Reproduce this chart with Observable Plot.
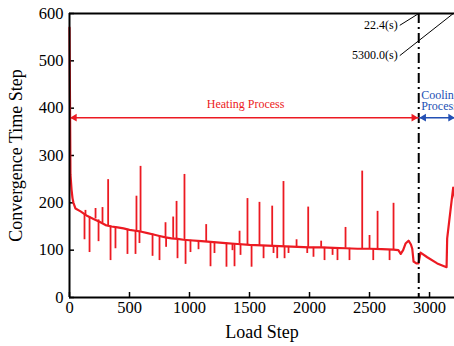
<!DOCTYPE html>
<html>
<head>
<meta charset="utf-8">
<script src="https://cdn.jsdelivr.net/npm/d3@7"></script>
<script src="https://cdn.jsdelivr.net/npm/@observablehq/plot@0.6"></script>
<style>
  html, body { margin: 0; padding: 0; background: #fff; }
  #chart svg { display: block; }
  #chart svg text { font-family: "Liberation Serif", "Times New Roman", serif; }
</style>
</head>
<body>
<div id="chart"></div>
<script>
// Baseline of the convergence curve (load step, convergence time step)
const baseStep = [0, 4, 8, 17, 25, 33, 50, 92, 150, 200, 250, 300, 350, 400, 450, 500, 550, 600, 650, 700, 750, 800, 850, 900, 950, 1000, 1100, 1200, 1300, 1400, 1500, 1600, 1700, 1800, 1900, 2000, 2100, 2200, 2300, 2400, 2500, 2600, 2700, 2740, 2760, 2780, 2800, 2825, 2845, 2856, 2867, 2890, 2908, 2925, 2981, 3064, 3142, 3147, 3175, 3197, 3215];
const baseVal  = [570, 420, 260, 228, 210, 200, 188, 182, 172, 166, 160, 153, 150, 148, 146, 143, 141, 139, 136, 133, 130, 127, 125, 124, 122, 121, 119, 117, 115, 113, 111, 110, 109, 108, 107, 106, 106, 105, 104, 103, 103, 102, 101, 100, 92, 100, 114, 120, 112, 103, 76, 72, 72, 95, 85, 72, 64, 125, 185, 232, 205];

// Spikes: load step, value at baseline, value at spike tip
const spikeStep = [125, 133, 167, 217, 242, 275, 322, 342, 383, 483, 550, 558, 583, 592, 692, 750, 800, 805, 864, 892, 900, 958, 967, 1008, 1075, 1139, 1175, 1208, 1308, 1358, 1375, 1417, 1425, 1483, 1517, 1583, 1617, 1689, 1700, 1731, 1783, 1792, 1825, 1892, 1981, 1989, 2033, 2097, 2125, 2192, 2233, 2300, 2333, 2439, 2500, 2531, 2567, 2667, 2700];
const spikeBase = [175, 175, 170, 166, 164, 157, 152, 151, 149, 144, 141, 141, 140, 140, 134, 130, 127, 127, 125, 124, 124, 122, 122, 121, 120, 118, 118, 117, 115, 114, 114, 113, 113, 111, 111, 110, 110, 109, 109, 109, 108, 108, 108, 107, 106, 106, 106, 106, 106, 105, 105, 104, 104, 103, 103, 102, 102, 101, 101];
const spikePeak = [122, 184, 95, 188, 118, 190, 249, 78, 103, 91, 91, 214, 114, 277, 87, 78, 158, 106, 170, 203, 82, 260, 70, 95, 101, 154, 65, 93, 64, 99, 65, 140, 89, 209, 64, 201, 82, 193, 93, 82, 245, 82, 93, 122, 93, 191, 85, 119, 78, 89, 78, 148, 78, 267, 131, 78, 182, 78, 199];

// Process boundary and arrows
const boundaryStep = [2910];
const processLevel = 380;
const heatingLabel = ["Heating Process"];
const coolingLabels = ["Cooling", "Process"];
const coolingLabelY = [428, 404];

// Time annotations
const timeLabels = ["22.4(s)", "5300.0(s)"];
const timeFromX = [2752, 2752];
const timeFromY = [575, 511];
const timeToX = [2910, 3198];
const timeToY = [600, 600];

const xTicks = [0, 500, 1000, 1500, 2000, 2500, 3000];
const yTicks = [0, 100, 200, 300, 400, 500, 600];

const RED = "#ec1a22";
const BLUE = "#2350b4";
const FONT = "Liberation Serif";

const base = baseStep.map((s, i) => ({step: s, value: baseVal[i]}));
const spikes = spikeStep.map((s, i) => ({step: s, lo: spikeBase[i], hi: spikePeak[i]}));
const ann = timeLabels.map((t, i) => ({t, x1: timeFromX[i], y1: timeFromY[i], x2: timeToX[i], y2: timeToY[i]}));
const xMax = 3208;

const chart = Plot.plot({
  width: 454,
  height: 346,
  marginLeft: 69,
  marginRight: 0,
  marginTop: 13,
  marginBottom: 49,
  style: {fontFamily: FONT, fontSize: "16.5px", color: "black", background: "white"},
  x: {domain: [0, xMax]},
  y: {domain: [0, 600]},
  marks: [
    // inward tick marks
    Plot.axisX({ticks: xTicks, tickSize: 5, dy: -5, tickFormat: () => "", label: null, strokeWidth: 1.5}),
    Plot.axisY({ticks: yTicks, tickSize: 5, dx: 5, tickFormat: () => "", label: null, strokeWidth: 1.5}),
    // tick labels
    Plot.text(xTicks, {x: d => d, frameAnchor: "bottom", lineAnchor: "top", dy: 4, text: d => String(d), fontSize: 16.5, fontFamily: FONT, fill: "black"}),
    Plot.text(yTicks, {y: d => d, frameAnchor: "left", textAnchor: "end", dx: -6, text: d => String(d), fontSize: 16.5, fontFamily: FONT, fill: "black"}),
    // axis titles
    Plot.axisX({ticks: [], label: "Load Step", labelAnchor: "center", labelArrow: "none", labelOffset: 40, dx: -19, fontSize: 18, fontFamily: FONT, fill: "black"}),
    Plot.axisY({ticks: [], label: "Convergence Time Step", labelAnchor: "center", labelArrow: "none", labelOffset: 60, dy: 5, fontSize: 18, fontFamily: FONT, fill: "black"}),
    // data
    Plot.ruleX(spikes, {x: "step", y1: "lo", y2: "hi", stroke: RED, strokeWidth: 1.8}),
    Plot.line(base, {x: "step", y: "value", stroke: RED, strokeWidth: 2.2}),
    // process boundary
    Plot.ruleX(boundaryStep, {stroke: "black", strokeWidth: 2, strokeDasharray: "10,4,2,4"}),
    // heating arrow
    Plot.link([{a: 0, b: boundaryStep[0]}], {x1: "a", x2: "b", y1: processLevel, y2: processLevel, stroke: RED, strokeWidth: 1.5}),
    Plot.dot([0], {x: d => d, y: processLevel, symbol: "triangle2", r: 3.6, rotate: -90, fill: RED, stroke: null, dx: 5}),
    Plot.dot(boundaryStep, {x: d => d, y: processLevel, symbol: "triangle2", r: 3.6, rotate: 90, fill: RED, stroke: null, dx: -5}),
    Plot.text(heatingLabel, {x: 1467, y: 409, fill: RED, fontSize: 12, fontFamily: FONT}),
    // cooling arrow
    Plot.link([{a: boundaryStep[0], b: xMax}], {x1: "a", x2: "b", y1: processLevel, y2: processLevel, stroke: BLUE, strokeWidth: 1.5}),
    Plot.dot(boundaryStep, {x: d => d, y: processLevel, symbol: "triangle2", r: 3.6, rotate: -90, fill: BLUE, stroke: null, dx: 5}),
    Plot.dot([xMax], {x: d => d, y: processLevel, symbol: "triangle2", r: 3.6, rotate: 90, fill: BLUE, stroke: null, dx: -4}),
    Plot.text(coolingLabels, {x: 2930, y: (d, i) => coolingLabelY[i], fill: BLUE, fontSize: 12, textAnchor: "start", fontFamily: FONT}),
    // time annotations
    Plot.link(ann, {x1: "x1", y1: "y1", x2: "x2", y2: "y2", stroke: "black", strokeWidth: 1}),
    Plot.text(ann, {x: "x1", y: "y1", text: "t", textAnchor: "end", dx: -2, fontSize: 12, fill: "black", fontFamily: FONT}),
    // frame lines
    Plot.ruleX([0], {stroke: "black", strokeWidth: 2}),
    Plot.ruleY([0, 600], {stroke: "black", strokeWidth: 2})
  ]
});

document.getElementById("chart").appendChild(chart);
</script>
</body>
</html>
